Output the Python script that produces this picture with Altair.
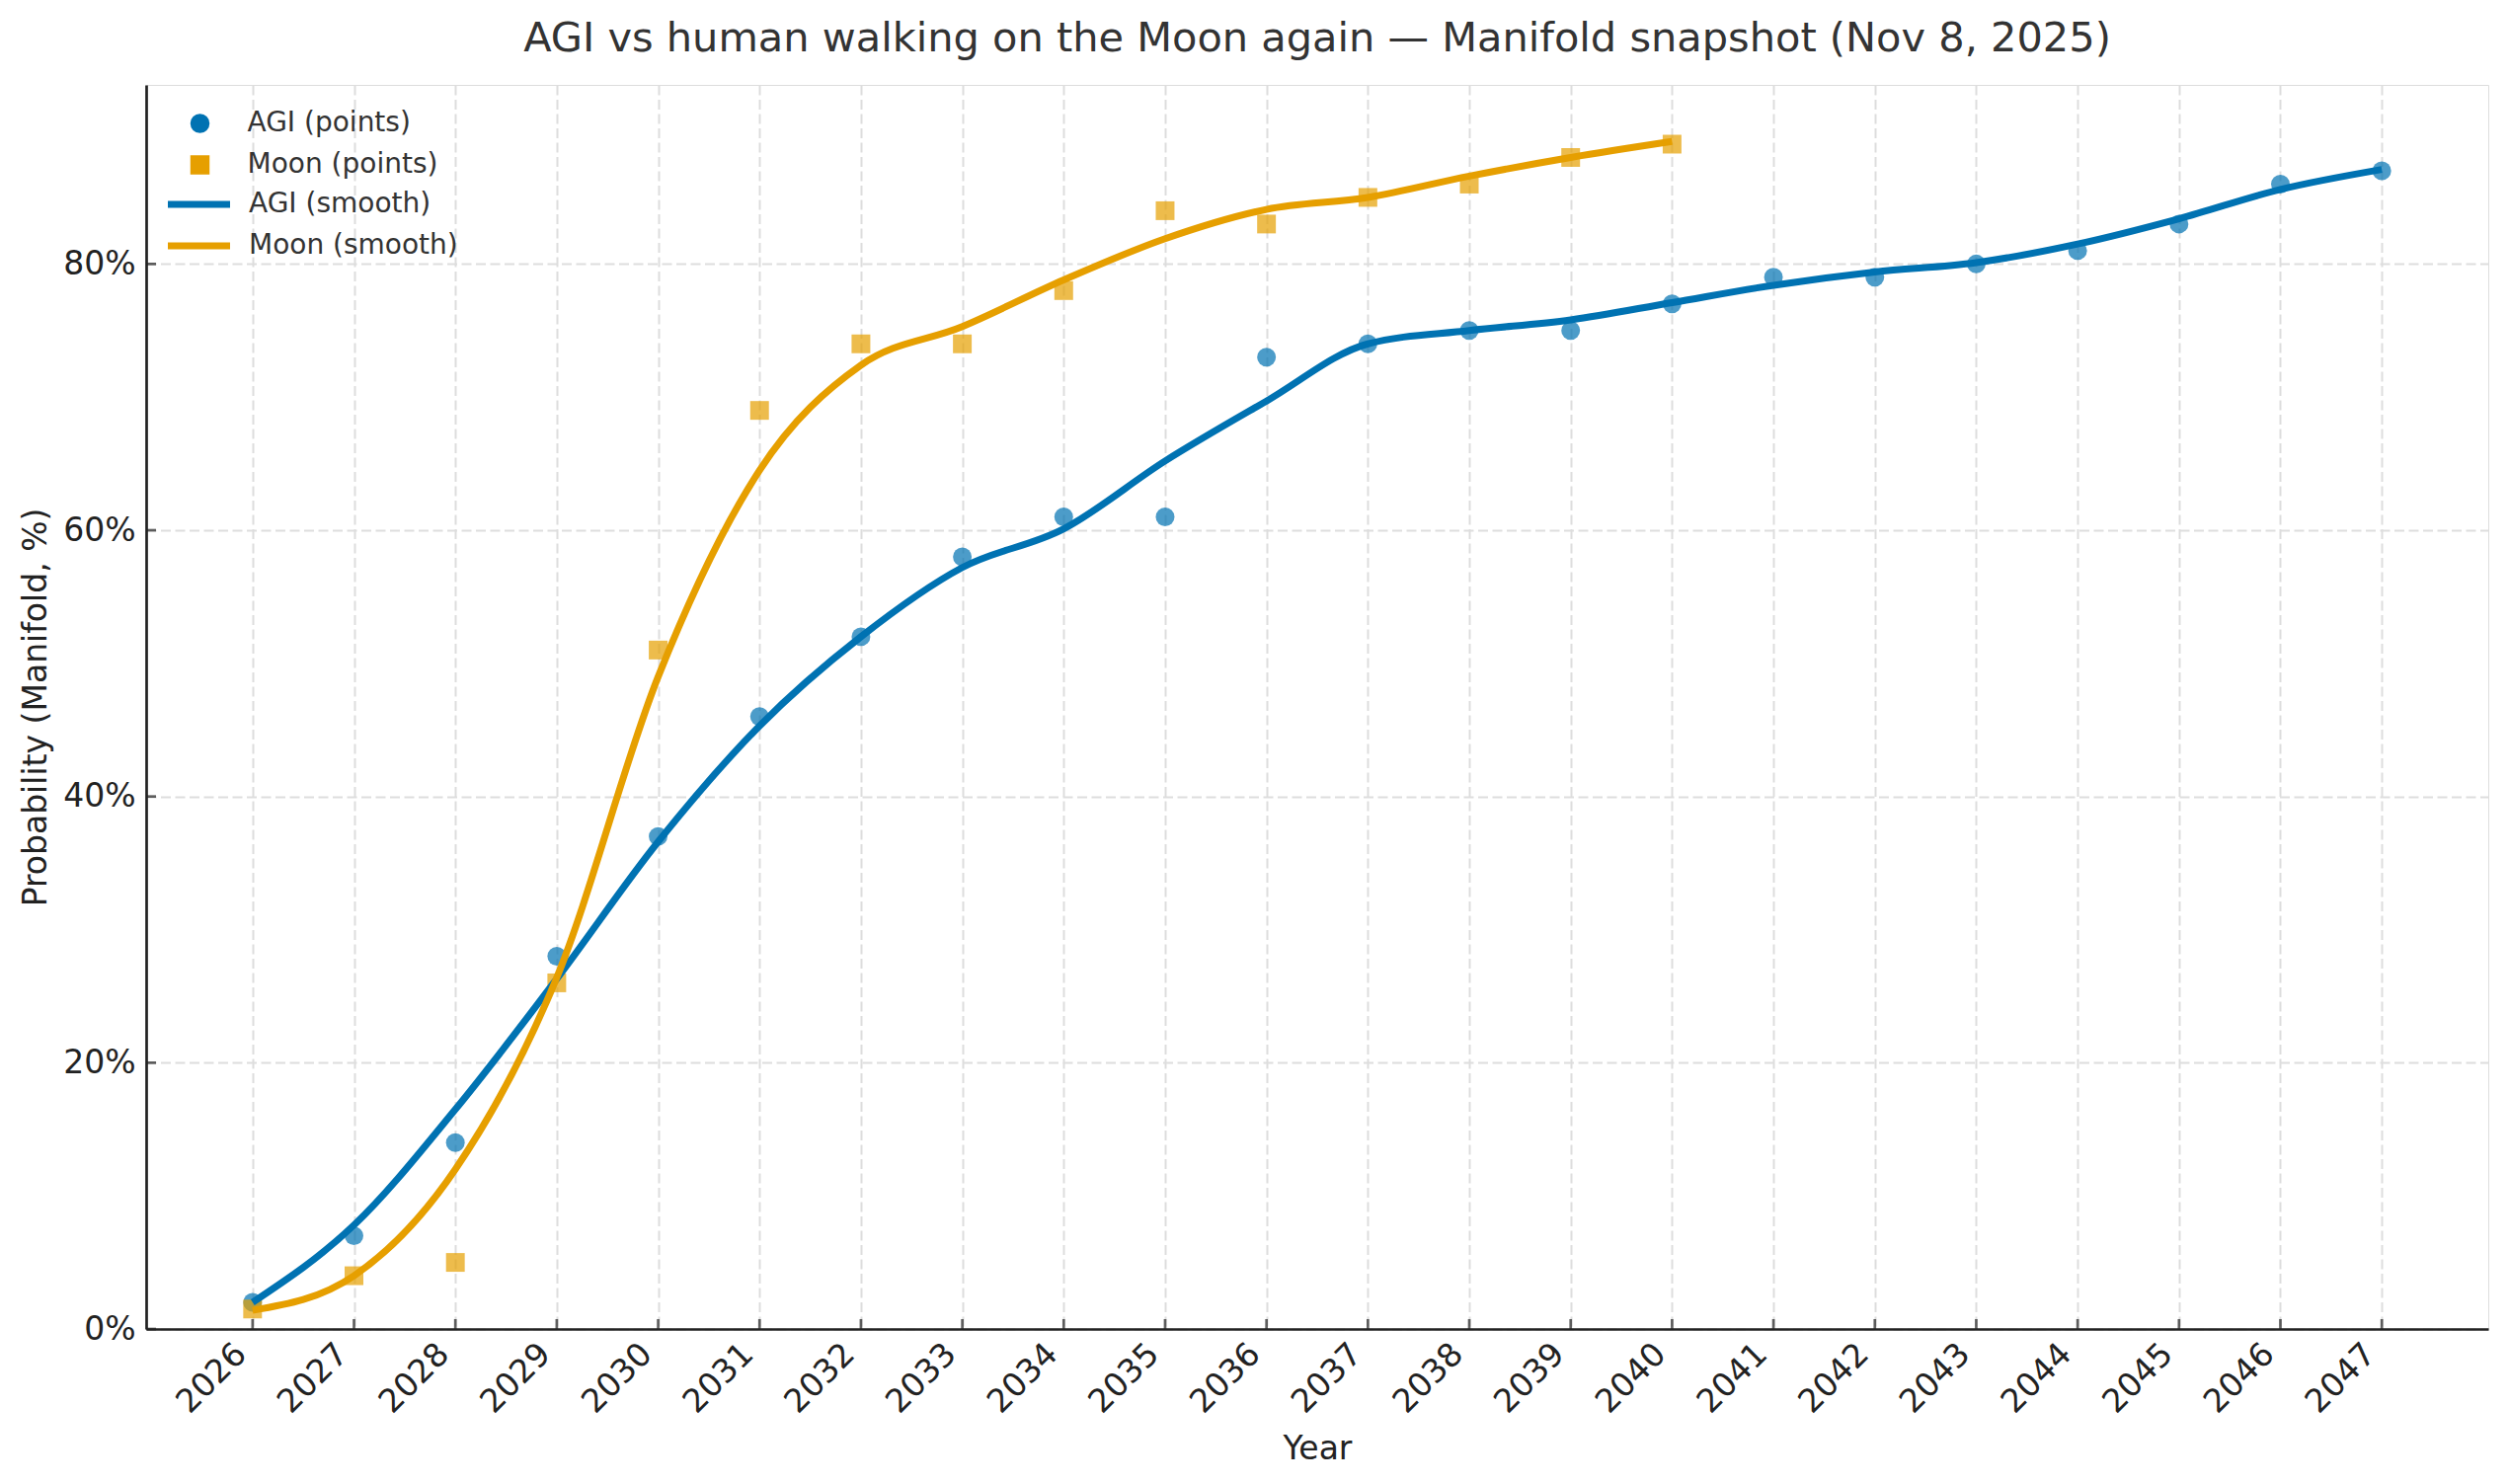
import altair as alt
import pandas as pd

# ---------------- data ----------------
years = [2026, 2027, 2028, 2029, 2030, 2031, 2032, 2033, 2034, 2035, 2036,
         2037, 2038, 2039, 2040, 2041, 2042, 2043, 2044, 2045, 2046, 2047]
agi_points = [2, 7, 14, 28, 37, 46, 52, 58, 61, 61, 73,
              74, 75, 75, 77, 79, 79, 80, 81, 83, 86, 87]
agi_smooth = [2.0, 7.8, 16.5, 26.3, 36.6, 45.3, 52.0, 57.2, 60.1, 65.2, 69.7,
              74.0, 75.0, 75.8, 77.1, 78.4, 79.4, 80.1, 81.5, 83.4, 85.6, 87.1]

moon_years = [2026, 2027, 2028, 2029, 2030, 2031, 2032, 2033, 2034, 2035, 2036,
              2037, 2038, 2039, 2040]
moon_points = [1.5, 4, 5, 26, 51, 69, 74, 74, 78, 84, 83, 85, 86, 88, 89]
moon_smooth = [1.4, 4.0, 12.0, 26.4, 49.0, 64.5, 72.4, 75.3, 78.8, 81.9, 84.1,
               85.0, 86.6, 88.0, 89.2]

y_ticks = [0, 20, 40, 60, 80]

point_series = ["AGI (points)", "Moon (points)"]
smooth_series = ["AGI (smooth)", "Moon (smooth)"]
colors = ["#0072B2", "#E69F00"]

TITLE = "AGI vs human walking on the Moon again \u2014 Manifold snapshot (Nov 8, 2025)"
FONT = "DejaVu Sans"

# ---------------- tables ----------------
pts_df = pd.DataFrame(
    {"year": years + moon_years,
     "value": agi_points + moon_points,
     "series": [point_series[0]] * len(years) + [point_series[1]] * len(moon_years)}
)
smooth_df = pd.DataFrame(
    {"year": years + moon_years,
     "value": agi_smooth + moon_smooth,
     "series": [smooth_series[0]] * len(years) + [smooth_series[1]] * len(moon_years)}
)
xt_df = pd.DataFrame({"year": years})
yt_df = pd.DataFrame({"v": y_ticks})

X_DOMAIN = [2024.95, 2048.05]
Y_DOMAIN = [0, 93.45]

x_scale = alt.Scale(domain=X_DOMAIN, nice=False, zero=False)
y_scale = alt.Scale(domain=Y_DOMAIN, nice=False, zero=False)

x_axis = alt.Axis(
    values=years, format="d", labelAngle=-45, labelAlign="right",
    labelBaseline="alphabetic", labelPadding=27, labelOffset=-5,
    ticks=False, tickSize=0, grid=True, gridDash=[10, 4.5],
    gridColor="#dddddd", gridWidth=2, domainColor="#222222", domainWidth=2.7,
    labelFontSize=33, labelColor="#222222", labelFont=FONT,
    labelOverlap=False, labelFlush=False,
    title="Year", titleFontSize=33, titleFont=FONT, titleFontWeight="normal",
    titleColor="#222222", titleBaseline="alphabetic", titleY=131,
)
y_axis = alt.Axis(
    values=y_ticks, labelExpr="datum.value + '%'", labelPadding=11,
    ticks=False, tickSize=0, grid=True, gridDash=[10, 4.5],
    gridColor="#dddddd", gridWidth=2, domainColor="#222222", domainWidth=2.7,
    labelFontSize=33, labelColor="#222222", labelFont=FONT,
    labelFlush=False, labelOverlap=False,
    title="Probability (Manifold, %)", titleFontSize=33, titleFont=FONT,
    titleFontWeight="normal", titleColor="#222222",
    titleBaseline="middle", titleX=-112, titleY=630,
)

pt_legend = alt.Legend(
    title=None, orient="none", legendX=40.5, legendY=25, direction="vertical",
    symbolSize=380, symbolStrokeWidth=0, symbolOpacity=1,
    labelFontSize=28, labelFont=FONT, labelColor="#333333", labelLimit=500,
    rowPadding=14, labelOffset=34, padding=0, offset=0,
)
ln_legend = alt.Legend(
    title=None, orient="none", legendX=39.5, legendY=107, direction="vertical",
    symbolType="M-3,0H3", symbolSize=441, symbolStrokeWidth=7, symbolOpacity=1,
    labelFontSize=28, labelFont=FONT, labelColor="#333333", labelLimit=500,
    rowPadding=14, labelOffset=36.5, padding=0, offset=0,
)

points = alt.Chart(pts_df).mark_point(
    filled=True, opacity=0.7, size=360, strokeWidth=0
).encode(
    x=alt.X("year:Q", scale=x_scale, axis=x_axis),
    y=alt.Y("value:Q", scale=y_scale, axis=y_axis),
    color=alt.Color("series:N", scale=alt.Scale(domain=point_series, range=colors),
                    legend=pt_legend),
    shape=alt.Shape("series:N", scale=alt.Scale(domain=point_series, range=["circle", "square"]),
                    legend=pt_legend),
)

lines = alt.Chart(smooth_df).mark_line(
    strokeWidth=7, interpolate="monotone"
).encode(
    x=alt.X("year:Q", scale=x_scale),
    y=alt.Y("value:Q", scale=y_scale),
    color=alt.Color("series:N", scale=alt.Scale(domain=smooth_series, range=colors),
                    legend=ln_legend),
)

xticks = alt.Chart(xt_df).mark_tick(
    orient="vertical", size=10, thickness=2.7, color="#222222", yOffset=-5
).encode(
    x=alt.X("year:Q", scale=x_scale),
    y=alt.datum(0),
)
yticks = alt.Chart(yt_df).mark_tick(
    orient="horizontal", size=10, thickness=2.7, color="#222222", xOffset=5
).encode(
    x=alt.datum(X_DOMAIN[0]),
    y=alt.Y("v:Q", scale=y_scale),
)

chart = alt.layer(points, lines, xticks, yticks).resolve_scale(
    color="independent", shape="independent"
).resolve_legend(
    color="independent", shape="independent"
).properties(
    width=2372, height=1260,
    title=alt.TitleParams(
        text=TITLE, fontSize=41.5, font=FONT, fontWeight="normal", color="#333333",
        anchor="middle", frame="group", baseline="alphabetic", offset=-7,
    ),
    autosize=alt.AutoSizeParams(type="none"),
    padding={"left": 140, "top": 78, "right": 10, "bottom": 140},
).configure_view(stroke=None).configure(font=FONT, background="white")

chart.save("out.html", embed_options={"renderer": "svg", "actions": False})
